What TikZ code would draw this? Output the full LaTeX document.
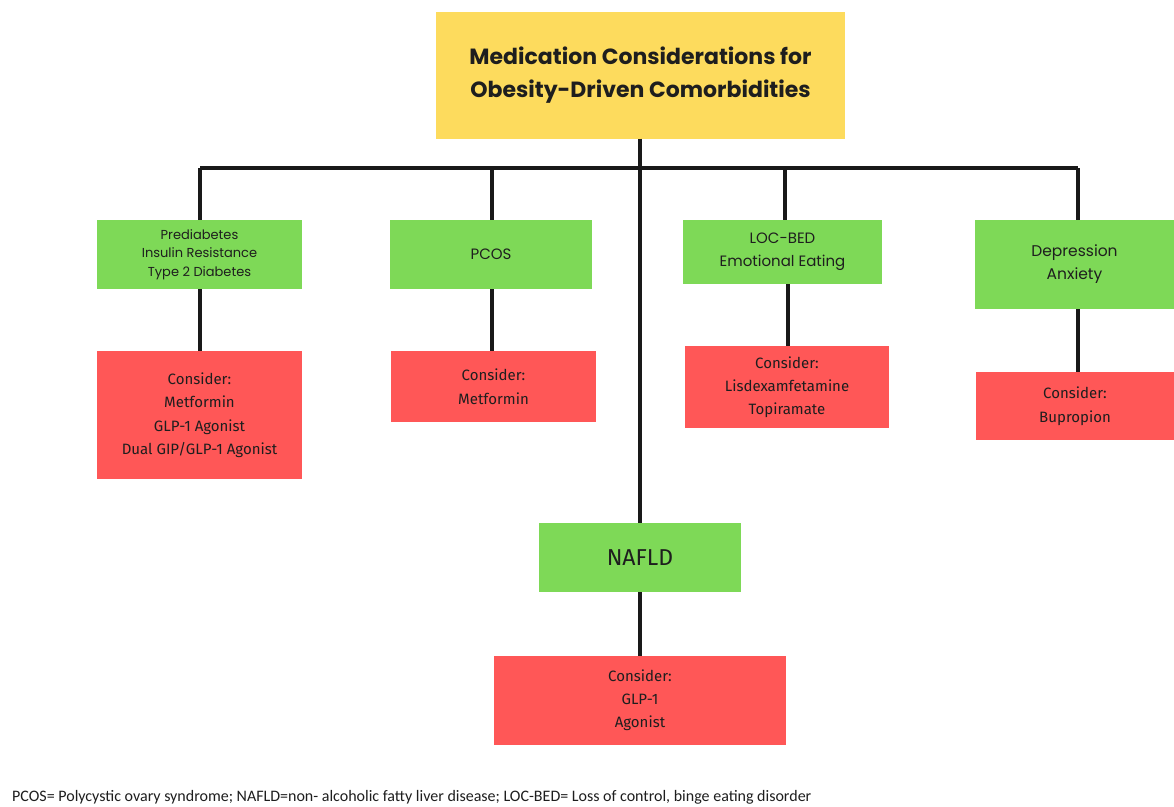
\documentclass[tikz,border=0pt]{standalone}
\usepackage{fontspec}
\newfontfamily\pop{Poppins}
\newfontfamily\fira{Fira Sans}
\newfontfamily\carl{Carlito}
\definecolor{ttl}{HTML}{FDDB5D}
\definecolor{grn}{HTML}{7ED957}
\definecolor{rd}{HTML}{FF5757}
\definecolor{txt}{HTML}{1E1E1E}
\tikzset{
  box/.style={rectangle, inner sep=0pt, align=center, text=txt},
  gbox/.style={box, fill=grn, font=\pop},
  rbox/.style={box, fill=rd, font=\fira},
  conn/.style={line width=3.2pt, black!90},
}
\begin{document}
\begin{tikzpicture}[x=1pt,y=-1pt]
\useasboundingbox (0,0) rectangle (1174,806);
\fill[white] (0,0) rectangle (1174,806);
\node[box, fill=ttl, minimum width=409pt, minimum height=127pt, font=\pop\bfseries\fontsize{22}{33}\selectfont] (title) at (640.5,75) {Medication Considerations for\\Obesity-Driven Comorbidities};

\node[gbox, minimum width=205pt, minimum height=69pt, font=\pop\fontsize{13}{18.5}\selectfont] (g1) at (199.5,254.5) {Prediabetes\\Insulin Resistance\\Type 2 Diabetes};
\node[gbox, minimum width=202pt, minimum height=69pt, font=\pop\fontsize{15}{23}\selectfont] (g2) at (491,254.5) {PCOS};
\node[gbox, minimum width=199pt, minimum height=64pt, font=\pop\fontsize{15}{23}\selectfont] (g3) at (782.5,252) {LOC-BED\\Emotional Eating};
\node[gbox, minimum width=199pt, minimum height=89pt, font=\pop\fontsize{15.5}{23}\selectfont] (g4) at (1074.5,264.5) {Depression\\Anxiety};
\node[gbox, minimum width=202pt, minimum height=69pt, font=\fira\fontsize{23}{26}\selectfont] (g5) at (640,557.5) {NAFLD};

\node[rbox, minimum width=205pt, minimum height=128pt, font=\fira\fontsize{15}{23.5}\selectfont] (r1) at (199.5,415) {Consider:\\Metformin\\GLP-1 Agonist\\Dual GIP/GLP-1 Agonist};
\node[rbox, minimum width=205pt, minimum height=71pt, font=\fira\fontsize{15}{23.5}\selectfont] (r2) at (493.5,386.5) {Consider:\\Metformin};
\node[rbox, minimum width=204pt, minimum height=82pt, font=\fira\fontsize{15}{23}\selectfont] (r3) at (787,387) {Consider:\\Lisdexamfetamine\\Topiramate};
\node[rbox, minimum width=198pt, minimum height=68pt, font=\fira\fontsize{15}{23.5}\selectfont] (r4) at (1075,406) {Consider:\\Bupropion};
\node[rbox, minimum width=292pt, minimum height=89pt, font=\fira\fontsize{15}{23}\selectfont] (r5) at (640,700.5) {Consider:\\GLP-1\\Agonist};

\node[anchor=west, inner sep=0pt, text=txt, font=\carl\fontsize{16}{18}\selectfont] (foot) at (12,797) {PCOS= Polycystic ovary syndrome; NAFLD=non- alcoholic fatty liver disease; LOC-BED= Loss of control, binge eating disorder};

\coordinate (b1) at (200,168);
\coordinate (b2) at (492,168);
\coordinate (b3) at (785,168);
\coordinate (b4) at (1078,168);
\coordinate (bc) at (640,168);
\coordinate (c3) at (788,0);

\draw[conn] (b1) -- (b4);
\draw[conn] (title.south -| bc) -- (g5.north -| bc);
\draw[conn] (b1) -- (b1 |- g1.north);
\draw[conn] (b2) -- (b2 |- g2.north);
\draw[conn] (b3) -- (b3 |- g3.north);
\draw[conn] (b4) -- (b4 |- g4.north);
\draw[conn] (g1.south -| b1) -- (r1.north -| b1);
\draw[conn] (g2.south -| b2) -- (r2.north -| b2);
\draw[conn] (g3.south -| c3) -- (r3.north -| c3);
\draw[conn] (g4.south -| b4) -- (r4.north -| b4);
\draw[conn] (g5.south) -- (r5.north);
\end{tikzpicture}
\end{document}
